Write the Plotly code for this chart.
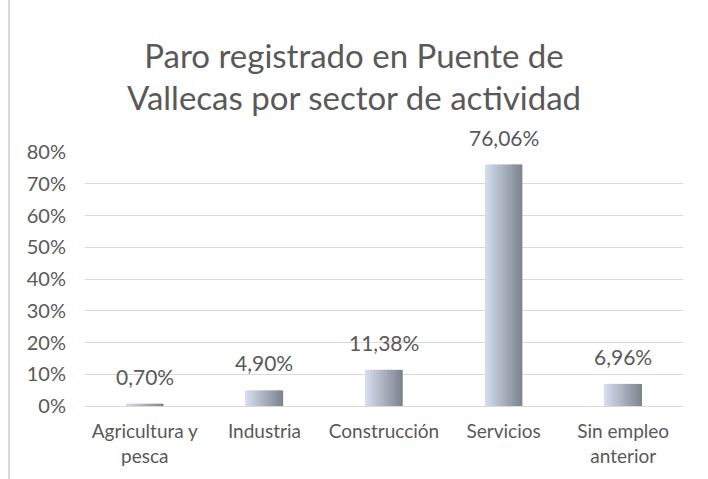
import plotly.graph_objects as go

categories = ["Agricultura y<br>pesca", "Industria", "Construcción", "Servicios", "Sin empleo<br>anterior"]
values = [0.0070, 0.0490, 0.1138, 0.7606, 0.0696]
tick_vals = [0, 0.1, 0.2, 0.3, 0.4, 0.5, 0.6, 0.7, 0.8]
tick_text = ["0%", "10%", "20%", "30%", "40%", "50%", "60%", "70%", "80%"]
title_text = "Paro registrado en Puente de<br>Vallecas por sector de actividad"

FONT = "Lato, Open Sans, sans-serif"
GREY = "#595959"

c_left = (214, 222, 240)
c_right = (126, 132, 142)
N = 24
bar_w = 0.31

fig = go.Figure()
for i in range(N):
    t = (i + 0.5) / N
    col = tuple(round(c_left[k] + (c_right[k] - c_left[k]) * t) for k in range(3))
    fig.add_trace(go.Bar(
        x=list(range(len(categories))), y=values,
        width=bar_w / N + 0.002, offset=-bar_w / 2 + i * bar_w / N,
        marker=dict(color="rgb(%d,%d,%d)" % col, line=dict(width=0)),
        showlegend=False, hoverinfo="skip",
    ))

for i, v in enumerate(values):
    fig.add_annotation(
        x=i, y=v, text=("%.2f%%" % (v * 100)).replace(".", ","),
        showarrow=False, yanchor="bottom", yshift=13,
        font=dict(family=FONT, size=21, color=GREY),
    )

fig.add_shape(type="line", xref="paper", yref="paper",
              x0=-0.127, x1=-0.127, y0=-0.3, y1=1.7,
              line=dict(color="#d9d9d9", width=2))

fig.update_layout(
    width=708, height=479,
    margin=dict(l=85, r=25, t=152, b=73),
    paper_bgcolor="white", plot_bgcolor="white",
    barmode="overlay",
    title=dict(text=title_text, x=0.5, xanchor="center", y=0.859, yanchor="top",
               font=dict(family=FONT, size=33, color=GREY)),
    xaxis=dict(
        tickmode="array", tickvals=list(range(len(categories))), ticktext=categories,
        range=[-0.5, len(categories) - 0.5], automargin=False,
        showgrid=False, showline=True, linecolor="#d9d9d9", linewidth=1,
        ticks="", ticklabelstandoff=8, tickfont=dict(family=FONT, size=19, color=GREY),
        fixedrange=True,
    ),
    yaxis=dict(
        range=[0, 0.8], tickmode="array", tickvals=tick_vals, ticktext=tick_text,
        automargin=False, fixedrange=True,
        showgrid=True, gridcolor="#d9d9d9", gridwidth=1, zeroline=False,
        showline=False, ticks="", ticklabelstandoff=18,
        tickfont=dict(family=FONT, size=20, color=GREY),
    ),
)

fig.write_html("out.html", config={"displayModeBar": False},
               post_script="document.body.style.margin='0';")
